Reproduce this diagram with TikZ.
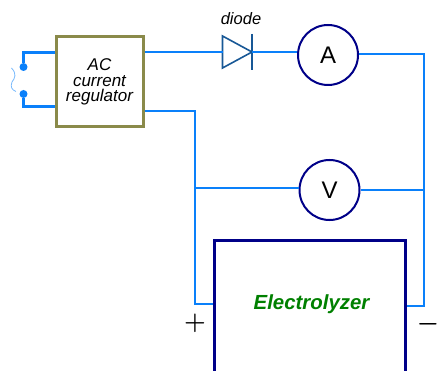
\documentclass[tikz,border=0pt]{standalone}
\usepackage{fontspec}
\setmainfont{Liberation Sans}
\usetikzlibrary{arrows}
\definecolor{wireblue}{RGB}{10,128,250}
\definecolor{diodeblue}{RGB}{24,88,150}
\definecolor{boxolive}{RGB}{138,138,74}
\definecolor{boxnavy}{RGB}{0,0,136}
\definecolor{textgreen}{RGB}{0,128,0}
\newcommand\R{30}

\begin{document}
\begin{tikzpicture}[x=1pt,y=-1pt,line join=miter]

  \tikzstyle{wire}=[draw=wireblue,line width=2pt]
  \tikzstyle{thick wire}=[draw=wireblue,line width=3pt]
  \tikzstyle{meter}=[circle,draw=boxnavy,line width=2pt,minimum size=2*\R pt,inner sep=0pt,font=\fontsize{24}{24}\selectfont]
  \tikzstyle{terminal}=[circle,fill=wireblue,minimum size=8pt,inner sep=0pt]

  \useasboundingbox (0,0) rectangle (441,371);

  \node[draw=boxolive,line width=3pt,minimum width=87pt,minimum height=90pt,inner sep=0pt,align=center,font=\fontsize{17}{15.5}\selectfont\itshape] (REG) at (99.5,82) {AC\\current\\regulator};
  \node[terminal] (TOP) at (23.5,67) {};   \node[terminal] (BOT) at (23.5,94) {};

  \node[meter] (AMP) at (328,55) {A};   \node[meter] (VOL) at (329.5,190) {V};

  \node[draw=boxnavy,line width=3pt,minimum width=191pt,minimum height=180pt,inner sep=0pt] (ELY) at (310,330) {};
  \node[font=\fontsize{20.4}{20}\selectfont\bfseries\itshape,text=textgreen] (ELT) at (311.5,304) {Electrolyzer};

  \node[font=\fontsize{16.5}{15}\selectfont\itshape] (DIT) at (241,19) {diode};
  \node[font=\fontsize{30}{30}\selectfont\boldmath] (PLS) at (195,323) {$+$};
  \node[font=\fontsize{30}{30}\selectfont\boldmath] (MNS) at (428,324) {$-$};

  \coordinate (DIL) at (222.5,52); \coordinate (DIR) at (252,52);
  \coordinate (DIA) at (222.5,36); \coordinate (DIB) at (222.5,68);
  \coordinate (BAA) at (252,34);   \coordinate (BAB) at (252,70);
  \coordinate (PJT) at (195,188);  \coordinate (NJT) at (424,190);

  % diode
  \draw[diodeblue,line width=1.6pt] (DIA) -- (DIR) -- (DIB) -- cycle;
  \draw[diodeblue,line width=1.8pt] (BAA) -- (BAB);

  % mains side
  \draw[thick wire] (TOP) |- ([yshift=29.5pt]REG.west);
  \draw[thick wire] (BOT) |- ([yshift=-24.5pt]REG.west);
  \draw[wireblue!55,line width=.8pt] (11.5,68) .. controls (17,74) and (15,78) .. (12,82) .. controls (10,87) and (12,90) .. (16,91.5);

  % series branch
  \draw[wire] ([yshift=30pt]REG.east) -- (DIL);
  \draw[wire] (DIR) -- ([yshift=3pt]AMP.west);
  \draw[wire] ([yshift=1pt]AMP.east) -| (NJT);
  \draw[wire] (NJT) |- ([yshift=24pt]ELY.east);

  % electrolyzer plus side and voltmeter
  \draw[wire] ([yshift=-29pt]REG.east) -| (PJT);
  \draw[wire] (PJT) |- ([yshift=26pt]ELY.west);
  \draw[wire] (PJT) -- ([yshift=2pt]VOL.west);
  \draw[wire] (VOL.east) -- (NJT);

\end{tikzpicture}
\end{document}
